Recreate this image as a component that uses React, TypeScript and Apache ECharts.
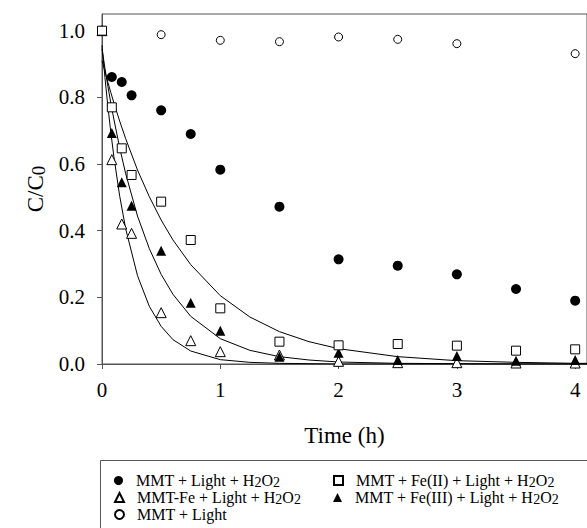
import React, { useEffect, useRef } from "react";
import * as echarts from "echarts";

// Measured data (time in h, C/C0)
const tMain = [0, 0.083, 0.167, 0.25, 0.5, 0.75, 1, 1.5, 2, 2.5, 3, 3.5, 4];
const mmtLightH2O2 = [1.0, 0.861, 0.846, 0.806, 0.761, 0.69, 0.583, 0.472, 0.314, 0.295, 0.269, 0.225, 0.19];
const mmtFe2 = [1.0, 0.77, 0.647, 0.567, 0.487, 0.372, 0.167, 0.067, 0.056, 0.06, 0.055, 0.04, 0.044];
const mmtFe3 = [1.0, 0.693, 0.545, 0.475, 0.34, 0.184, 0.1, 0.022, 0.034, 0.012, 0.024, 0.01, 0.012];
const mmtFe = [1.0, 0.613, 0.42, 0.392, 0.154, 0.07, 0.037, 0.027, 0.008, 0.004, 0.004, 0.003, 0.003];
const tLight = [0, 0.5, 1, 1.5, 2, 2.5, 3, 4];
const mmtLight = [1.0, 0.988, 0.971, 0.967, 0.981, 0.974, 0.961, 0.931];

// Fitted curves
const fitT = [0, 0.025, 0.05, 0.075, 0.1, 0.15, 0.2, 0.3, 0.4, 0.5, 0.6, 0.75, 1, 1.25, 1.5, 1.75, 2, 2.5, 3, 3.5, 4, 4.1];
const fitFe2 = [0.91, 0.877, 0.845, 0.814, 0.784, 0.728, 0.676, 0.582, 0.502, 0.432, 0.372, 0.298, 0.205, 0.141, 0.097, 0.067, 0.046, 0.022, 0.01, 0.005, 0.002, 0.002];
const fitFe3 = [0.945, 0.887, 0.833, 0.782, 0.735, 0.648, 0.571, 0.444, 0.346, 0.269, 0.209, 0.143, 0.076, 0.041, 0.022, 0.012, 0.006, 0.002, 0.001, 0, 0, 0];
const fitFe = [0.956, 0.859, 0.772, 0.694, 0.623, 0.503, 0.406, 0.265, 0.173, 0.113, 0.073, 0.039, 0.013, 0.005, 0.002, 0.001, 0, 0, 0, 0, 0, 0];

const xTicks = [0, 1, 2, 3, 4];
const yTicks = [0, 0.2, 0.4, 0.6, 0.8, 1.0];

const names = {
  a: "MMT + Light + H2O2",
  b: "MMT + Fe(II) + Light + H2O2",
  c: "MMT-Fe + Light + H2O2",
  d: "MMT + Fe(III) + Light + H2O2",
  e: "MMT + Light",
};

const FONT = "Liberation Serif";

const zip = (xs: number[], ys: number[]) => xs.map((x, i) => [x, ys[i]]);

export default function App() {
  const ref = useRef<HTMLDivElement>(null);
  useEffect(() => {
    if (!ref.current) return;
    const chart = echarts.init(ref.current, null, { renderer: "svg" });
    const open = { color: "#fff", borderColor: "#000", borderWidth: 1, opacity: 1 };
    const filled = { color: "#000", borderColor: "#000", borderWidth: 0, opacity: 1 };
    const fitLine = (name: string, ys: number[]) => ({
      name,
      type: "line",
      data: zip(fitT, ys),
      showSymbol: false,
      symbol: "none",
      lineStyle: { color: "#000", width: 1 },
      z: 1,
      silent: true,
    });
    const legendFmt = (n: string) => n.replace(/H2O2/g, "H{sub|2}O{sub|2}");
    const legendText = {
      fontFamily: FONT,
      fontSize: 16,
      color: "#000",
      lineHeight: 17,
      padding: [0, 0, 0, 8],
      rich: {
        sub: { fontFamily: FONT, fontSize: 14, lineHeight: 5, verticalAlign: "bottom", color: "#000" },
      },
    };
    const oneLegend = (name: string, icon: string, left: number, top: number) => ({
      orient: "horizontal",
      left,
      top,
      itemWidth: 9,
      itemHeight: 9,
      itemGap: 0,
      padding: 0,
      selectedMode: false,
      data: [{ name, icon }],
      formatter: legendFmt,
      textStyle: legendText,
    });
    chart.setOption({
      animation: false,
      backgroundColor: "#fff",
      textStyle: { fontFamily: FONT },
      grid: {
        left: 102,
        top: 14,
        bottom: 164,
        right: -2,
        show: true,
        borderColor: "#555",
        borderWidth: 1,
      },
      xAxis: {
        type: "value",
        min: 0,
        max: 4.1,
        name: "Time (h)",
        nameLocation: "middle",
        nameGap: 60,
        nameTextStyle: { fontFamily: FONT, fontSize: 23, color: "#000" },
        axisLine: { lineStyle: { color: "#555" } },
        axisTick: { show: true, length: 5, customValues: xTicks, lineStyle: { color: "#555" } },
        axisLabel: { customValues: xTicks, fontFamily: FONT, fontSize: 21, color: "#000", margin: 15 },
        splitLine: { show: false },
      },
      yAxis: {
        type: "value",
        min: 0,
        max: 1.05,
        name: "C/C{sub|0}",
        nameLocation: "middle",
        nameGap: 49,
        nameRotate: 90,
        nameTextStyle: {
          fontFamily: FONT,
          fontSize: 23,
          color: "#000",
          lineHeight: 24,
          rich: { sub: { fontFamily: FONT, fontSize: 19, lineHeight: 8, verticalAlign: "bottom", color: "#000" } },
        },
        axisLine: { lineStyle: { color: "#555" } },
        axisTick: { show: true, length: 5, customValues: yTicks, lineStyle: { color: "#555" } },
        axisLabel: {
          customValues: yTicks,
          formatter: (v: number) => v.toFixed(1),
          fontFamily: FONT,
          fontSize: 21,
          color: "#000",
          margin: 17,
        },
        splitLine: { show: false },
      },
      legend: [
        oneLegend(names.a, "circle", 114, 472),
        oneLegend(names.c, "triangle", 114, 489),
        oneLegend(names.e, "circle", 114, 506),
        oneLegend(names.b, "rect", 333, 472),
        oneLegend(names.d, "triangle", 333, 489),
      ],
      graphic: [
        {
          type: "rect",
          left: 98,
          top: 458,
          shape: { width: 500, height: 80 },
          style: { fill: "none", stroke: "#555", lineWidth: 1 },
          silent: true,
          z: -1,
        },
      ],
      series: [
        fitLine("fitFe2", fitFe2),
        fitLine("fitFe3", fitFe3),
        fitLine("fitFe", fitFe),
        {
          name: names.e,
          type: "scatter",
          data: zip(tLight, mmtLight),
          symbol: "circle",
          symbolSize: 8,
          itemStyle: open,
          z: 3,
        },
        {
          name: names.a,
          type: "scatter",
          data: zip(tMain, mmtLightH2O2),
          symbol: "circle",
          symbolSize: 10,
          itemStyle: filled,
          z: 3,
        },
        {
          name: names.c,
          type: "scatter",
          data: zip(tMain, mmtFe),
          symbol: "triangle",
          symbolSize: 10,
          itemStyle: open,
          z: 3,
        },
        {
          name: names.d,
          type: "scatter",
          data: zip(tMain, mmtFe3),
          symbol: "triangle",
          symbolSize: 10,
          itemStyle: filled,
          z: 4,
        },
        {
          name: names.b,
          type: "scatter",
          data: zip(tMain, mmtFe2),
          symbol: "rect",
          symbolSize: 9,
          itemStyle: open,
          z: 5,
        },
      ],
    });
    return () => chart.dispose();
  }, []);
  return <div ref={ref} style={{ width: 587, height: 528, position: "absolute", left: 0, top: 0 }} />;
}
